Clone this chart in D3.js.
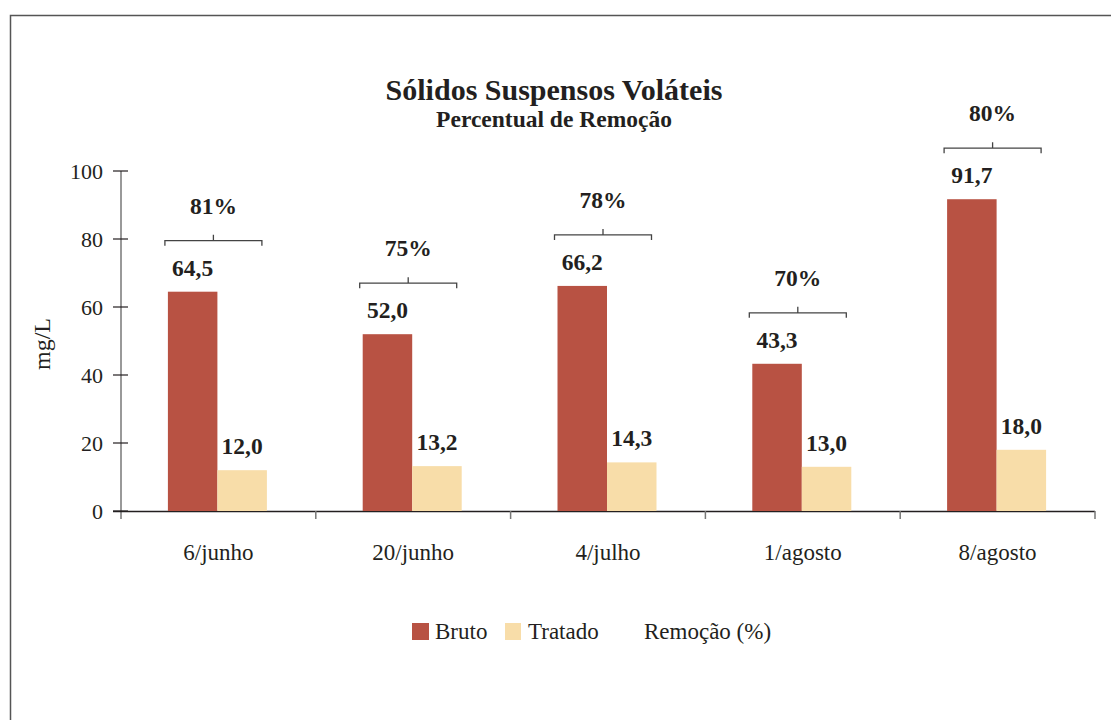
<!DOCTYPE html>
<html lang="pt">
<head>
<meta charset="UTF-8">
<title>Sólidos Suspensos Voláteis</title>
<style>
  body { margin: 0; background: #fff; }
</style>
</head>
<body>
<script src="https://d3js.org/d3.v7.min.js"></script>
<script>
const categories = ["6/junho", "20/junho", "4/julho", "1/agosto", "8/agosto"];
const bruto = [64.5, 52.0, 66.2, 43.3, 91.7];
const tratado = [12.0, 13.2, 14.3, 13.0, 18.0];
const remocao = [81, 75, 78, 70, 80];
const yTicks = [0, 20, 40, 60, 80, 100];

const width = 1111, height = 720;
const colBruto = "#b85243", colTratado = "#f8dda9";
const serif = '"Liberation Serif", Tinos, "Times New Roman", serif';
const ink = "#231f20";
const fmt = v => v.toFixed(1).replace(".", ",");

const svg = d3.select("body").append("svg")
    .attr("width", width)
    .attr("height", height)
    .style("font-family", serif);

// frame (only top and left visible)
svg.append("path")
    .attr("d", "M10.5,720 V15.5 H1111")
    .attr("fill", "none")
    .attr("stroke", "#555")
    .attr("stroke-width", 1.5);

const x = d3.scaleBand().domain(categories).range([121, 1095]);
const y = d3.scaleLinear().domain([0, 100]).range([511, 171]);
const barW = 49.5;

function label(sel) {
    return sel.style("font-family", serif).attr("fill", ink);
}

// title
label(svg.append("text")).attr("x", 554).attr("y", 100)
    .attr("text-anchor", "middle").attr("font-weight", "bold").attr("font-size", 30)
    .text("Sólidos Suspensos Voláteis");
label(svg.append("text")).attr("x", 554).attr("y", 127)
    .attr("text-anchor", "middle").attr("font-weight", "bold").attr("font-size", 23.5)
    .text("Percentual de Remoção");

// y axis
const yAxis = svg.append("g").attr("transform", "translate(121,0)")
    .call(d3.axisLeft(y).tickValues(yTicks).tickSize(0).tickPadding(18).tickFormat(d3.format("d")));
yAxis.select(".domain").remove();
yAxis.selectAll("text").attr("font-size", 22).attr("dy", "0.35em").call(label);
svg.append("line").attr("x1", 121).attr("x2", 121).attr("y1", y(100)).attr("y2", 519)
    .attr("stroke", "#777").attr("stroke-width", 1.5);
svg.selectAll(".ytick").data(yTicks).join("line")
    .attr("x1", 113).attr("x2", 128)
    .attr("y1", d => y(d)).attr("y2", d => y(d))
    .attr("stroke", ink).attr("stroke-width", 1.2);

label(svg.append("text"))
    .attr("transform", "translate(50,344) rotate(-90)")
    .attr("text-anchor", "middle").attr("font-size", 24)
    .text("mg/L");

// x axis
svg.append("line").attr("x1", 113).attr("x2", 1095).attr("y1", 511.5).attr("y2", 511.5)
    .attr("stroke", ink).attr("stroke-width", 1.5);
const bounds = categories.map(c => x(c)).concat([x.range()[1]]).slice(1);
svg.selectAll(".xtick").data(bounds).join("line")
    .attr("x1", d => d).attr("x2", d => d).attr("y1", 511).attr("y2", 519)
    .attr("stroke", "#777").attr("stroke-width", 1.5);
svg.selectAll(".xlab").data(categories).join("text")
    .call(label)
    .attr("x", d => x(d) + x.bandwidth() / 2).attr("y", 560)
    .attr("text-anchor", "middle").attr("font-size", 23)
    .text(d => d);

// bars
const g = svg.selectAll(".grp").data(categories).join("g")
    .attr("transform", d => `translate(${x(d) + x.bandwidth() / 2},0)`);

g.append("rect")
    .attr("x", -barW - 1).attr("width", barW)
    .attr("y", (d, i) => y(bruto[i])).attr("height", (d, i) => y(0) - y(bruto[i]))
    .attr("fill", colBruto);
g.append("rect")
    .attr("x", -1).attr("width", barW)
    .attr("y", (d, i) => y(tratado[i])).attr("height", (d, i) => y(0) - y(tratado[i]))
    .attr("fill", colTratado);

g.append("text").call(label)
    .attr("x", -barW / 2 - 1).attr("y", (d, i) => y(bruto[i]) - 16)
    .attr("text-anchor", "middle").attr("font-weight", "bold").attr("font-size", 23.5)
    .text((d, i) => fmt(bruto[i]));
g.append("text").call(label)
    .attr("x", barW / 2 - 1).attr("y", (d, i) => y(tratado[i]) - 16)
    .attr("text-anchor", "middle").attr("font-weight", "bold").attr("font-size", 23.5)
    .text((d, i) => fmt(tratado[i]));

// removal brackets
const bk = g.append("g")
    .attr("transform", (d, i) => `translate(-5,${y(bruto[i]) - 51})`);
bk.append("path")
    .attr("d", "M-48.5,5 V0 H48.5 V5 M0,0 V-6")
    .attr("fill", "none").attr("stroke", "#444").attr("stroke-width", 1.3);
bk.append("text").call(label)
    .attr("x", 0).attr("y", -27)
    .attr("text-anchor", "middle").attr("font-weight", "bold").attr("font-size", 23.5)
    .text((d, i) => remocao[i] + "%");

// legend
const leg = svg.append("g");
leg.append("rect").attr("x", 412).attr("y", 623).attr("width", 17).attr("height", 17).attr("fill", colBruto);
label(leg.append("text")).attr("x", 435).attr("y", 639).attr("font-size", 23).text("Bruto");
leg.append("rect").attr("x", 505).attr("y", 623).attr("width", 16).attr("height", 17).attr("fill", colTratado);
label(leg.append("text")).attr("x", 528).attr("y", 639).attr("font-size", 23).text("Tratado");
label(leg.append("text")).attr("x", 644).attr("y", 639).attr("font-size", 23).text("Remoção (%)");
</script>
</body>
</html>
